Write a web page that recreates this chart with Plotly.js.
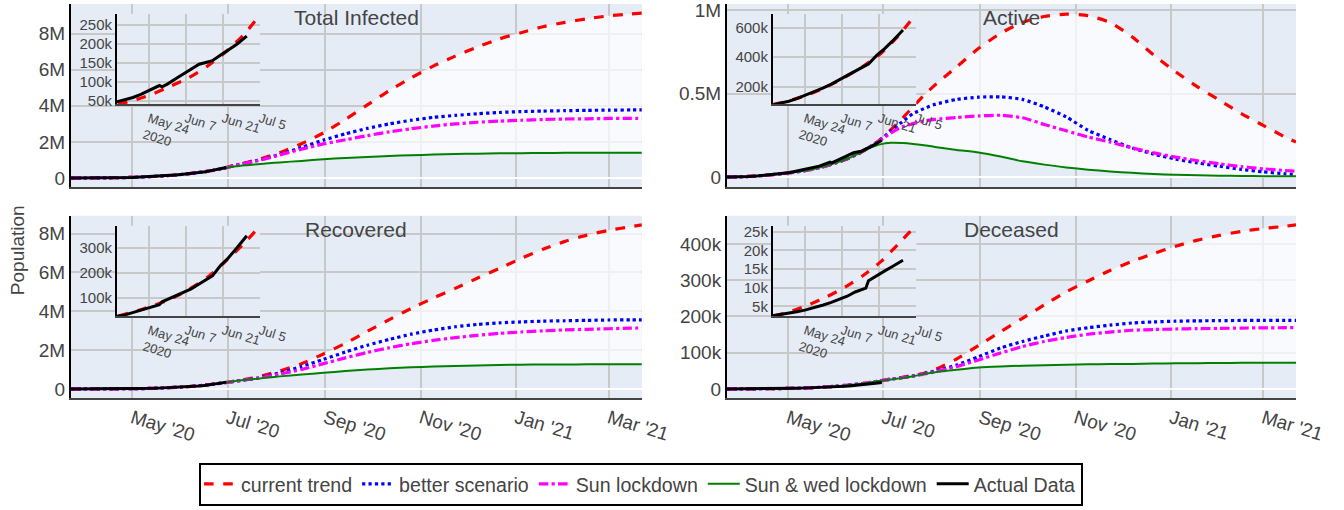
<!DOCTYPE html>
<html>
<head>
<meta charset="utf-8">
<script src="https://cdn.plot.ly/plotly-3.0.1.min.js"></script>
<style>html,body{margin:0;padding:0;background:#fff;}#chart{width:1344px;height:510px;}</style>
</head>
<body>
<div id="chart"></div>
<script>
// ---------- data ----------
const modelDates = ['2020-03-23','2020-03-30','2020-04-06','2020-04-13','2020-04-20','2020-04-27','2020-05-04','2020-05-11','2020-05-18','2020-05-25','2020-06-01','2020-06-08','2020-06-15','2020-06-22','2020-06-29','2020-07-06','2020-07-13','2020-07-20','2020-07-27','2020-08-03','2020-08-17','2020-08-31','2020-09-14','2020-09-28','2020-10-12','2020-10-26','2020-11-09','2020-11-23','2020-12-07','2020-12-21','2021-01-04','2021-01-18','2021-02-01','2021-02-15','2021-03-01','2021-03-15','2021-03-22'];

// Total infected
const totalCurrent  = [500,1300,4600,10000,18000,29000,46000,73000,103000,143000,196000,262000,338000,430000,560000,720000,860000,1020000,1200000,1400000,1900000,2500000,3250000,4050000,4850000,5550000,6200000,6750000,7250000,7700000,8050000,8380000,8620000,8820000,8980000,9090000,9130000];
const totalBetter   = [500,1300,4600,10000,18000,29000,46000,73000,103000,143000,196000,262000,338000,430000,555000,710000,840000,980000,1130000,1300000,1700000,2100000,2450000,2750000,3000000,3200000,3360000,3470000,3560000,3630000,3680000,3710000,3730000,3750000,3760000,3770000,3770000];
const totalSun      = [500,1300,4600,10000,18000,29000,46000,73000,103000,143000,196000,262000,338000,430000,555000,705000,830000,960000,1110000,1280000,1600000,1890000,2120000,2350000,2560000,2730000,2880000,3000000,3090000,3150000,3200000,3240000,3270000,3280000,3300000,3310000,3310000];
const totalSunWed   = [500,1300,4600,10000,18000,29000,46000,73000,103000,143000,196000,262000,338000,425000,540000,650000,715000,770000,822000,868000,950000,1040000,1110000,1170000,1220000,1265000,1300000,1330000,1350000,1370000,1380000,1390000,1395000,1400000,1400000,1400000,1400000];

// Active
const activeCurrent = [450,1100,4200,8500,14000,20000,28000,38000,50000,66000,87000,110000,140000,178000,225000,285000,350000,420000,490000,550000,660000,770000,860000,925000,960000,975000,965000,925000,840000,730000,630000,540000,460000,380000,310000,240000,210000];
const activeBetter  = [450,1100,4200,8500,14000,20000,28000,38000,50000,66000,87000,110000,140000,178000,222000,278000,330000,380000,410000,435000,465000,478000,480000,465000,420000,360000,280000,225000,175000,138000,108000,85000,66000,46000,32000,20000,16000];
const activeSun     = [450,1100,4200,8500,14000,20000,28000,38000,50000,66000,87000,110000,140000,178000,220000,265000,300000,320000,335000,345000,357000,366000,370000,355000,315000,277000,240000,210000,175000,145000,120000,98000,80000,63000,50000,40000,36000];
const activeSunWed  = [450,1100,4200,8500,14000,20000,28000,38000,50000,66000,87000,110000,140000,172000,196000,205000,204000,199000,191000,181000,163000,147000,123000,95000,75000,58000,45000,34000,26000,19000,14000,11000,9000,7000,6000,5000,5000];

// Recovered
const recCurrent    = [35,100,400,1200,3000,6500,12500,22000,42000,65000,92000,132000,180000,245000,318000,400000,500000,620000,760000,920000,1300000,1800000,2350000,2970000,3570000,4150000,4680000,5180000,5700000,6200000,6720000,7200000,7600000,7920000,8170000,8360000,8450000];
const recBetter     = [35,100,400,1200,3000,6500,12500,22000,42000,65000,92000,132000,180000,245000,318000,400000,470000,560000,690000,820000,1150000,1520000,1900000,2250000,2550000,2820000,3030000,3200000,3320000,3400000,3450000,3490000,3510000,3530000,3550000,3560000,3560000];
const recSun        = [35,100,400,1200,3000,6500,12500,22000,42000,65000,92000,132000,180000,245000,318000,400000,470000,550000,650000,760000,1000000,1300000,1600000,1880000,2120000,2330000,2500000,2640000,2760000,2860000,2930000,2990000,3040000,3070000,3100000,3130000,3140000];
const recSunWed     = [35,100,400,1200,3000,6500,12500,22000,42000,65000,92000,132000,180000,245000,318000,405000,465000,525000,585000,645000,740000,830000,920000,1000000,1060000,1110000,1150000,1180000,1210000,1230000,1245000,1255000,1260000,1265000,1270000,1270000,1270000];

// Deceased
const decCurrent    = [10,35,130,330,600,950,1500,2200,3500,5300,7500,10100,13300,17200,22300,27500,32000,37500,43000,53000,83000,120000,158000,195000,232000,268000,298000,327000,352000,374000,394000,411000,424000,435000,443000,449000,453000];
const decBetter     = [10,35,130,330,600,950,1500,2200,3500,5300,7500,10100,13300,17200,22300,27000,31000,36000,42000,49000,66000,89000,113000,131000,146000,160000,169000,176000,182000,185000,187000,188000,188500,189000,189000,189000,189000];
const decSun        = [10,35,130,330,600,950,1500,2200,3500,5300,7500,10100,13300,17200,22300,27000,31000,35000,41000,47000,62000,80000,99000,117000,131000,142000,151000,157000,162000,164000,165500,166500,167000,168000,168500,169000,169000];
const decSunWed     = [10,35,130,330,600,950,1500,2200,3500,5300,7500,10100,13300,17200,22300,26000,30000,35000,41000,46000,53000,59000,62000,64000,65500,67000,68000,68500,69000,70000,70500,71000,71500,72000,72000,72000,72000];

// Actual data
const actualDates = ['2020-03-23','2020-03-27','2020-04-01','2020-04-06','2020-04-11','2020-04-16','2020-04-21','2020-04-26','2020-05-01','2020-05-06','2020-05-09','2020-05-12','2020-05-15','2020-05-18','2020-05-21','2020-05-24','2020-05-28','2020-05-29','2020-05-31','2020-06-03','2020-06-06','2020-06-09','2020-06-12','2020-06-16','2020-06-17','2020-06-20','2020-06-23','2020-06-26','2020-06-30'];
const actualTotal  = [499,887,1998,4778,8446,13430,20080,27890,37257,52987,62939,74281,85784,100328,118226,138536,165386,173491,190535,216824,246622,276146,308993,343091,354065,410461,456183,508953,585493];
const actualActive = [454,800,1792,4316,7400,11214,15460,20834,26027,35871,41472,47480,52773,57940,66090,76820,89569,85884,93275,106665,120383,133726,145779,153178,155227,169451,183022,197387,220114];
const actualRec    = [35,67,148,326,758,1768,3975,6184,10007,15331,19358,24386,30258,39233,48553,57692,71106,82627,91852,104071,119293,134670,154330,180013,186935,227756,258685,295881,347979];
const actualDec    = [10,20,58,136,288,448,645,872,1223,1785,2109,2415,2753,3155,3583,4024,4711,4980,5408,6088,6946,7750,8884,9900,11903,13254,14476,15685,17400];

const seriesNames = ['current trend','better scenario','Sun lockdown','Sun & wed lockdown','Actual Data'];
const panelTitles = ['Total Infected','Active','Recovered','Deceased'];

// ---------- styling ----------
const FONT = 'Liberation Sans, Arial, sans-serif';
const C = {red:'#ff0000', blue:'#0000ff', mag:'#ff00ff', green:'#008000', black:'#000000'};
const GRID = '#c8c8c8';
const FILL = 'rgba(255,255,255,0.72)';

const panels = [
  {cur: totalCurrent, bet: totalBetter, sun: totalSun, sw: totalSunWed, act: actualTotal, x:'x', y:'y'},
  {cur: activeCurrent, bet: activeBetter, sun: activeSun, sw: activeSunWed, act: actualActive, x:'x2', y:'y2'},
  {cur: recCurrent, bet: recBetter, sun: recSun, sw: recSunWed, act: actualRec, x:'x3', y:'y3'},
  {cur: decCurrent, bet: decBetter, sun: decSun, sw: decSunWed, act: actualDec, x:'x4', y:'y4'}
];
// insets (the first two insets show each other's data, as in the source figure)
const insets = [
  {cur: activeCurrent, act: actualActive, x:'x5', y:'y5'},
  {cur: totalCurrent, act: actualTotal, x:'x6', y:'y6'},
  {cur: recCurrent, act: actualRec, x:'x7', y:'y7'},
  {cur: decCurrent, act: actualDec, x:'x8', y:'y8'}
];

const traces = [];
panels.forEach((p, i) => {
  const first = i === 0;
  traces.push({x: modelDates, y: p.cur, xaxis: p.x, yaxis: p.y, mode:'lines', name: seriesNames[0], legendgroup:'a', showlegend: first,
    line:{color:C.red, width:3.2, dash:'dash', shape:'spline', smoothing:0.6}});
  traces.push({x: modelDates, y: p.sw, xaxis: p.x, yaxis: p.y, mode:'lines', fill:'tonexty', fillcolor: FILL, showlegend:false, hoverinfo:'skip',
    line:{width:0, shape:'spline', smoothing:0.6}});
  traces.push({x: modelDates, y: p.bet, xaxis: p.x, yaxis: p.y, mode:'lines', name: seriesNames[1], legendgroup:'b', showlegend: first,
    line:{color:C.blue, width:3.2, dash:'dot', shape:'spline', smoothing:0.6}});
  traces.push({x: modelDates, y: p.sun, xaxis: p.x, yaxis: p.y, mode:'lines', name: seriesNames[2], legendgroup:'c', showlegend: first,
    line:{color:C.mag, width:3.2, dash:'dashdot', shape:'spline', smoothing:0.6}});
  traces.push({x: modelDates, y: p.sw, xaxis: p.x, yaxis: p.y, mode:'lines', name: seriesNames[3], legendgroup:'d', showlegend: first,
    line:{color:C.green, width:2, shape:'spline', smoothing:0.6}});
  traces.push({x: actualDates, y: p.act, xaxis: p.x, yaxis: p.y, mode:'lines', name: seriesNames[4], legendgroup:'e', showlegend: first,
    line:{color:C.black, width:3}});
});
insets.forEach((p) => {
  traces.push({x: modelDates, y: p.cur, xaxis: p.x, yaxis: p.y, mode:'lines', showlegend:false, legendgroup:'a',
    line:{color:C.red, width:3.2, dash:'dash', shape:'spline', smoothing:0.6}});
  traces.push({x: actualDates, y: p.act, xaxis: p.x, yaxis: p.y, mode:'lines', showlegend:false, legendgroup:'e',
    line:{color:C.black, width:3}});
});

// ---------- layout ----------
const LX = [0, 0.466], RX = [0.5355, 1];
const TY = [0.535, 1], BY = [0, 0.4625];
function mainX(domain, anchor, labels) {
  return {type:'date', domain: domain, anchor: anchor, showgrid:true, gridcolor: GRID, gridwidth:2,
    showline:true, linecolor:'#444', linewidth:2, zeroline:false, ticks:'',
    tick0:'2020-05-01', dtick:'M2', tickformat:"%b '%y", tickangle:17,
    showticklabels: labels, tickfont:{family:FONT, size:19, color:'#444'}};
}
function mainY(domain, anchor, dtick, range) {
  const ax = {domain: domain, anchor: anchor, showgrid:true, gridcolor: GRID, gridwidth:2,
    showline:true, linecolor:'#000', linewidth:2, zeroline:true, zerolinecolor:'#ffffff', zerolinewidth:2,
    dtick: dtick, ticks:'', ticklabeloverflow:'allow', tickfont:{family:FONT, size:19, color:'#444'}};
  if (range) ax.range = range;
  return ax;
}
function insetX(domain, anchor) {
  return {type:'date', domain: domain, anchor: anchor, range:['2020-05-12','2020-07-05'],
    showgrid:true, gridcolor: GRID, gridwidth:2, showline:true, linecolor:'#444', linewidth:2, zeroline:false,
    tick0:'2020-05-24', dtick: 1209600000, tickangle:17, ticks:'',
    tickfont:{family:FONT, size:13, color:'#444'}};
}
function insetY(domain, anchor, range, dtick) {
  return {domain: domain, anchor: anchor, range: range, dtick: dtick, showgrid:true, gridcolor: GRID, gridwidth:2,
    showline:true, linecolor:'#000', linewidth:2, zeroline:false, ticks:'',
    tickfont:{family:FONT, size:15, color:'#444'}};
}
const IXL = [0.0376, 0.1543], IXR = [0.573, 0.690];
const IYT = [0.745, 0.975], IYB = [0.207, 0.437];

const titleAnn = (text, x, y) => ({text: text, x: x, y: y, xref:'paper', yref:'paper', xanchor:'center', yanchor:'top',
  showarrow:false, font:{family:FONT, size:21, color:'#444'}});

const layout = {
  width:1344, height:510,
  margin:{l:71, r:48, t:4, b:110},
  paper_bgcolor:'#ffffff', plot_bgcolor:'#e5ecf6',
  font:{family:FONT, color:'#444'},
  showlegend:true,
  legend:{orientation:'h', x:0.4653, xanchor:'center', y:-0.164, yanchor:'top', itemwidth:32,
    bgcolor:'#ffffff', bordercolor:'#000000', borderwidth:2, font:{family:FONT, size:19.6, color:'#444'}},
  xaxis: mainX(LX, 'y', false),  yaxis: mainY(TY, 'x', 2000000),
  xaxis2: mainX(RX, 'y2', false), yaxis2: mainY(TY, 'x2', 500000, [-60000, 1035000]),
  xaxis3: mainX(LX, 'y3', true), yaxis3: mainY(BY, 'x3', 2000000),
  xaxis4: mainX(RX, 'y4', true), yaxis4: mainY(BY, 'x4', 100000),
  xaxis5: insetX(IXL, 'y5'), yaxis5: insetY(IYT, 'x5', [39500, 279000], 50000),
  xaxis6: insetX(IXR, 'y6'), yaxis6: insetY(IYT, 'x6', [78000, 695000], 200000),
  xaxis7: insetX(IXL, 'y7'), yaxis7: insetY(IYB, 'x7', [24000, 388000], 100000),
  xaxis8: insetX(IXR, 'y8'), yaxis8: insetY(IYB, 'x8', [2330, 26600], 5000),
  annotations: [
    titleAnn(panelTitles[0], (LX[0]+LX[1])/2, TY[1]),
    titleAnn(panelTitles[1], (RX[0]+RX[1])/2, TY[1]),
    titleAnn(panelTitles[2], (LX[0]+LX[1])/2, BY[1]),
    titleAnn(panelTitles[3], (RX[0]+RX[1])/2, BY[1]),
    {text:'Population', x:-0.043, y:0.376, xref:'paper', yref:'paper', xanchor:'center', yanchor:'middle',
      textangle:-90, showarrow:false, font:{family:FONT, size:19, color:'#444'}}
  ]
};

Plotly.newPlot('chart', traces, layout, {displayModeBar:false, staticPlot:true});
</script>
</body>
</html>
